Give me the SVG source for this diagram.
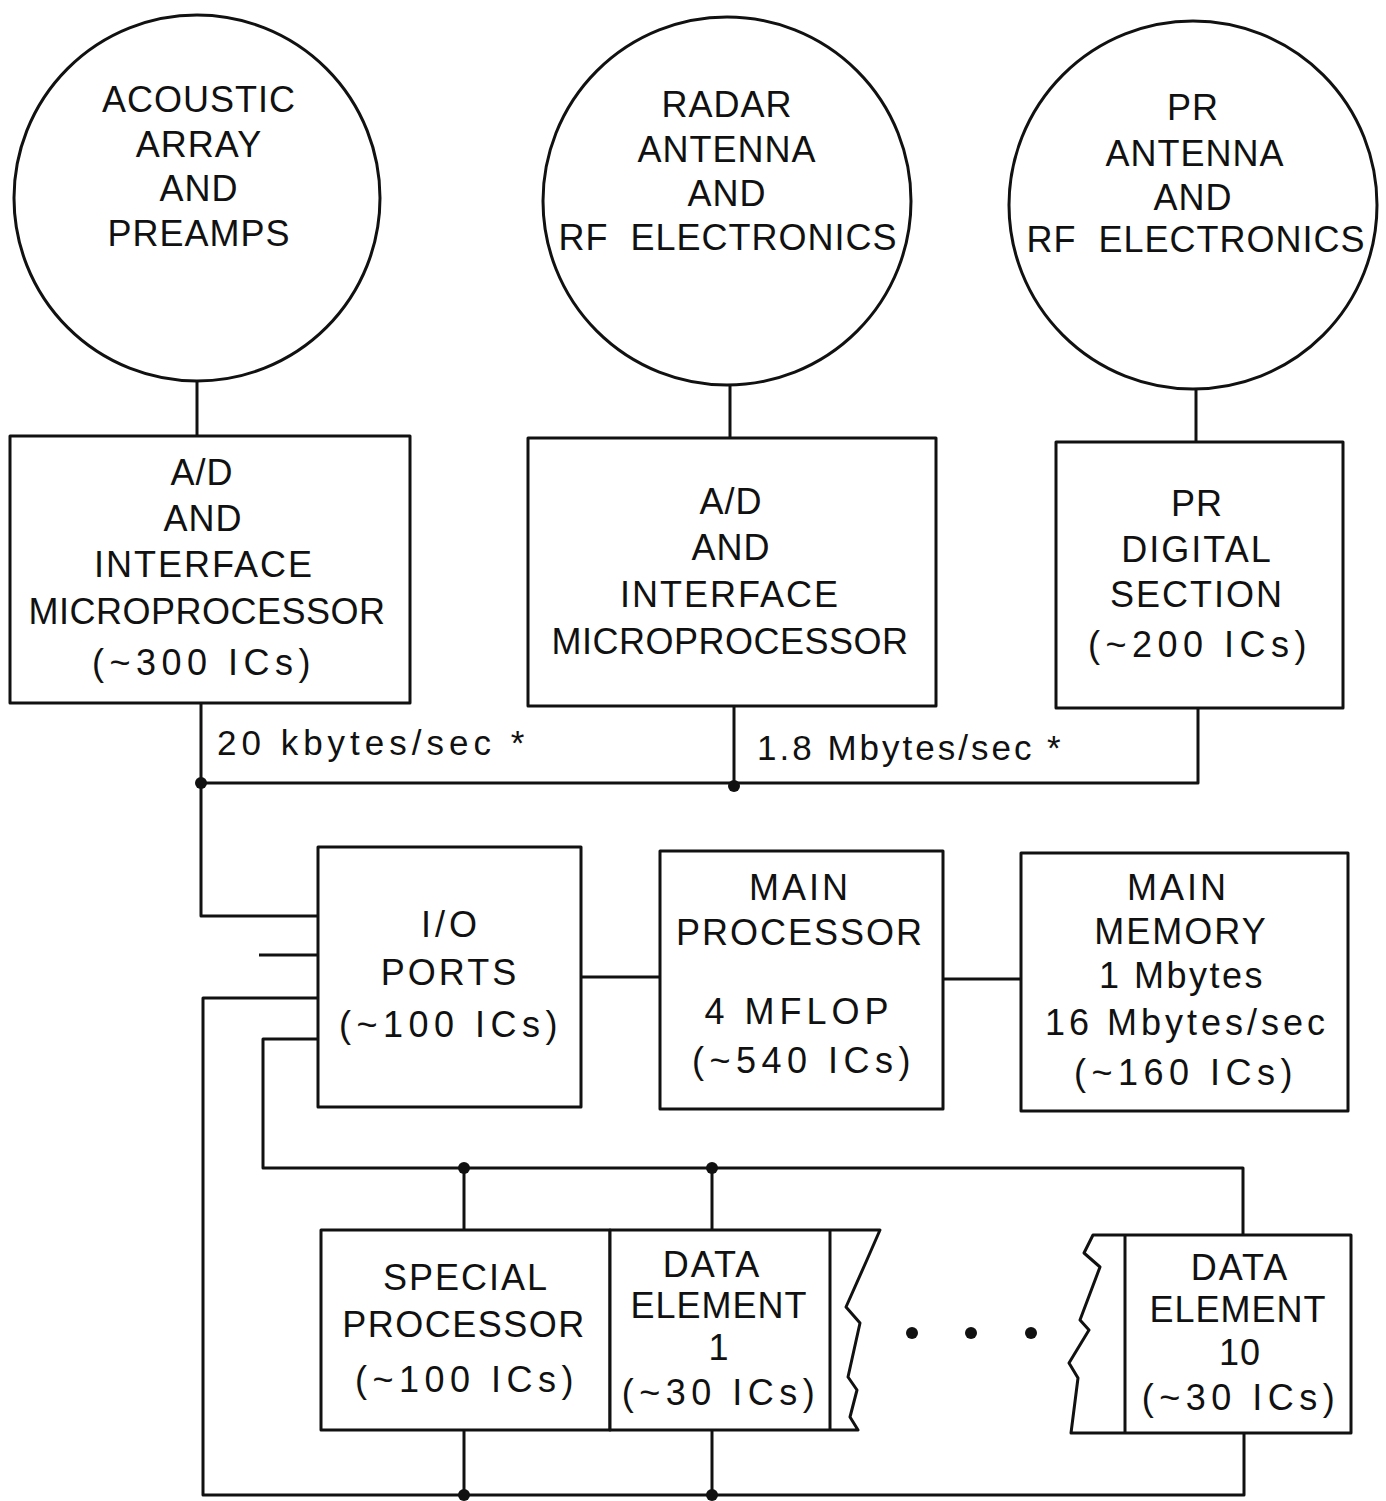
<svg xmlns="http://www.w3.org/2000/svg" width="1386" height="1501" viewBox="0 0 1386 1501">
<style>
.s{fill:none;stroke:#111;stroke-width:3;stroke-linejoin:round}
.w{fill:#fff;stroke:#111;stroke-width:3;stroke-linejoin:round}
.t{font-family:"Liberation Sans",Arial,sans-serif;font-size:36px;fill:#111;text-anchor:middle;letter-spacing:1px}
.p{letter-spacing:5.5px}
.r{font-family:"Liberation Sans",Arial,sans-serif;font-size:35px;fill:#111;letter-spacing:4px}
.d{fill:#111}
</style>
<rect width="1386" height="1501" fill="#fff"/>
<g id="connectors">
<path class="s" d="M197 382V436"/>
<path class="s" d="M730 386V438"/>
<path class="s" d="M1196 390V442"/>
<path class="s" d="M201 703V916H318"/>
<path class="s" d="M201 783H1198V708"/>
<path class="s" d="M734 706V786"/>
<path class="s" d="M259 955H318"/>
<path class="s" d="M318 998H203V1495H1244V1433"/>
<path class="s" d="M318 1039H263V1168H1243V1235"/>
<path class="s" d="M582 977H660"/>
<path class="s" d="M943 979H1021"/>
<path class="s" d="M464 1168V1230"/>
<path class="s" d="M712 1168V1230"/>
<path class="s" d="M464 1430V1495"/>
<path class="s" d="M712 1430V1495"/>
<circle class="d" cx="201" cy="783" r="6"/>
<circle class="d" cx="734" cy="786" r="6"/>
<circle class="d" cx="464" cy="1168" r="6"/>
<circle class="d" cx="712" cy="1168" r="6"/>
<circle class="d" cx="464" cy="1495" r="6"/>
<circle class="d" cx="712" cy="1495" r="6"/>
<text class="r" x="217" y="755" style="letter-spacing:5px">20 kbytes/sec *</text>
<text class="r" x="757" y="760" style="letter-spacing:3px">1.8 Mbytes/sec *</text>
</g>
<g id="acoustic">
<circle class="w" cx="197" cy="198" r="183"/>
<text class="t" x="199" y="112">ACOUSTIC</text>
<text class="t" x="199" y="157">ARRAY</text>
<text class="t" x="199" y="201">AND</text>
<text class="t" x="199" y="246">PREAMPS</text>
</g>
<g id="radar">
<circle class="w" cx="727" cy="201" r="184"/>
<text class="t" x="727" y="117">RADAR</text>
<text class="t" x="727" y="162">ANTENNA</text>
<text class="t" x="727" y="206">AND</text>
<text class="t" x="728" y="250">RF&#160;&#160;ELECTRONICS</text>
</g>
<g id="pr">
<circle class="w" cx="1193" cy="205" r="184"/>
<text class="t" x="1193" y="120">PR</text>
<text class="t" x="1195" y="166">ANTENNA</text>
<text class="t" x="1193" y="210">AND</text>
<text class="t" x="1196" y="252">RF&#160;&#160;ELECTRONICS</text>
</g>
<g id="ad1">
<rect class="w" x="10" y="436" width="400" height="267"/>
<text class="t" x="202" y="485">A/D</text>
<text class="t" x="203" y="531">AND</text>
<text class="t" x="204" y="577" style="letter-spacing:2px">INTERFACE</text>
<text class="t" x="207" y="624" style="letter-spacing:0.5px">MICROPROCESSOR</text>
<text class="t p" x="204" y="675">(~300 ICs)</text>
</g>
<g id="ad2">
<rect class="w" x="528" y="438" width="408" height="268"/>
<text class="t" x="731" y="514">A/D</text>
<text class="t" x="731" y="560">AND</text>
<text class="t" x="730" y="607" style="letter-spacing:2px">INTERFACE</text>
<text class="t" x="730" y="654" style="letter-spacing:0.5px">MICROPROCESSOR</text>
</g>
<g id="prdigital">
<rect class="w" x="1056" y="442" width="287" height="266"/>
<text class="t" x="1197" y="516">PR</text>
<text class="t" x="1197" y="562" style="letter-spacing:2px">DIGITAL</text>
<text class="t" x="1197" y="607" style="letter-spacing:2px">SECTION</text>
<text class="t p" x="1200" y="657">(~200 ICs)</text>
</g>
<g id="io">
<rect class="w" x="318" y="847" width="263" height="260"/>
<text class="t" x="451" y="937" style="letter-spacing:4px">I/O</text>
<text class="t" x="450" y="985" style="letter-spacing:3px">PORTS</text>
<text class="t p" x="451" y="1037">(~100 ICs)</text>
</g>
<g id="mainproc">
<rect class="w" x="660" y="851" width="283" height="258"/>
<text class="t" x="800" y="900" style="letter-spacing:3px">MAIN</text>
<text class="t" x="800" y="945" style="letter-spacing:2px">PROCESSOR</text>
<text class="t" x="799" y="1024" style="letter-spacing:5px">4 MFLOP</text>
<text class="t p" x="804" y="1073">(~540 ICs)</text>
</g>
<g id="mainmem">
<rect class="w" x="1021" y="853" width="327" height="258"/>
<text class="t" x="1178" y="900" style="letter-spacing:3px">MAIN</text>
<text class="t" x="1181" y="944" style="letter-spacing:2px">MEMORY</text>
<text class="t" x="1182" y="988" style="letter-spacing:2.5px">1 Mbytes</text>
<text class="t" x="1187" y="1035" style="letter-spacing:4px">16 Mbytes/sec</text>
<text class="t p" x="1186" y="1085">(~160 ICs)</text>
</g>
<g id="special">
<rect class="w" x="321" y="1230" width="289" height="200"/>
<text class="t" x="466" y="1290" style="letter-spacing:2px">SPECIAL</text>
<text class="t" x="464" y="1337" style="letter-spacing:1.5px">PROCESSOR</text>
<text class="t p" x="467" y="1392">(~100 ICs)</text>
</g>
<g id="de1">
<path class="w" d="M610 1230H880L866 1262L846 1307L860 1323L848 1377L857 1390L850 1417L858 1430H610Z"/>
<path class="s" d="M830 1230V1430"/>
<text class="t" x="712" y="1277" style="letter-spacing:2px">DATA</text>
<text class="t" x="719" y="1318">ELEMENT</text>
<text class="t" x="719" y="1360">1</text>
<text class="t p" x="721" y="1405">(~30 ICs)</text>
</g>
<g id="dots">
<circle class="d" cx="912" cy="1333" r="6"/>
<circle class="d" cx="971" cy="1333" r="6"/>
<circle class="d" cx="1031" cy="1333" r="6"/>
</g>
<g id="de10">
<path class="w" d="M1093 1235H1351V1433H1071L1078 1378L1069 1363L1089 1330L1080 1320L1100 1267L1084 1253Z"/>
<path class="s" d="M1125 1235V1433"/>
<text class="t" x="1240" y="1280" style="letter-spacing:2px">DATA</text>
<text class="t" x="1238" y="1322">ELEMENT</text>
<text class="t" x="1240" y="1365">10</text>
<text class="t p" x="1241" y="1410">(~30 ICs)</text>
</g>
</svg>
